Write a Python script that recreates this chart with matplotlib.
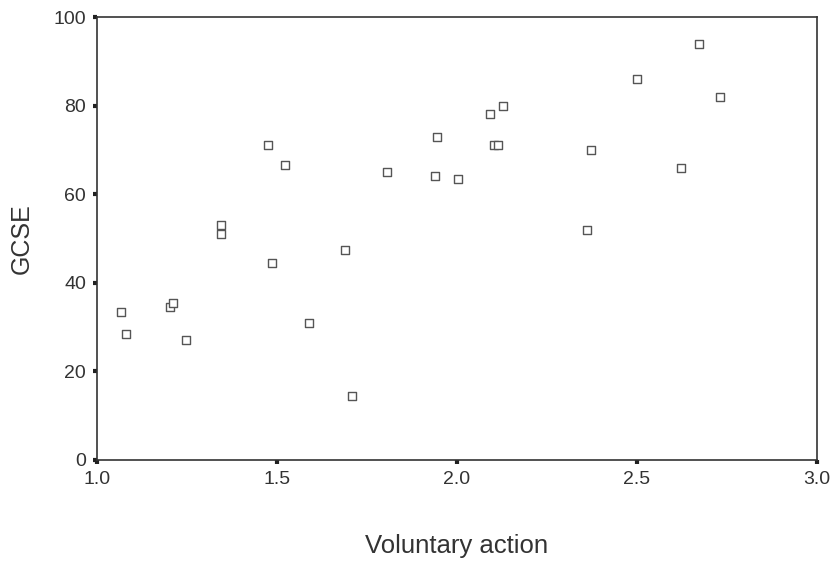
import matplotlib
matplotlib.use("Agg")
import matplotlib.pyplot as plt

# Voluntary action score vs GCSE result
voluntary = [1.067, 1.08, 1.203, 1.211, 1.247, 1.344, 1.344, 1.475, 1.522, 1.486,
             1.589, 1.689, 1.708, 1.806, 1.939, 1.944, 2.003, 2.092, 2.128, 2.103,
             2.114, 2.361, 2.372, 2.5, 2.622, 2.672, 2.731]
gcse = [33.5, 28.5, 34.5, 35.5, 27, 53, 51, 71, 66.5, 44.5,
        31, 47.5, 14.5, 65, 64, 73, 63.5, 78, 80, 71,
        71, 52, 70, 86, 66, 94, 82]

xticks = [1.0, 1.5, 2.0, 2.5, 3.0]
yticks = [0, 20, 40, 60, 80, 100]

plt.rcParams['font.family'] = ['Liberation Sans', 'DejaVu Sans']

fig = plt.figure(figsize=(8.39, 5.61), dpi=100)
ax = fig.add_axes([97 / 839, 101 / 561, 720 / 839, 443 / 561])

ax.scatter(voluntary, gcse, marker='s', s=30, facecolors='white',
           edgecolors='#555555', linewidths=1.0, zorder=3)

ax.set_xlim(1.0, 3.0)
ax.set_ylim(0, 100)
ax.set_xticks(xticks)
ax.set_xticklabels(['%.1f' % t for t in xticks])
ax.set_yticks(yticks)
ax.tick_params(direction='out', length=3, width=3, color='#222222',
               labelsize=14, labelcolor='#333333', pad=5)

for sp in ax.spines.values():
    sp.set_linewidth(1.2)
    sp.set_color('#333333')

ax.set_xlabel('Voluntary action', fontsize=18.5, color='#333333', labelpad=33)
ax.set_ylabel('GCSE', fontsize=18, color='#333333', labelpad=14)

fig.savefig('out.png', dpi=100)
